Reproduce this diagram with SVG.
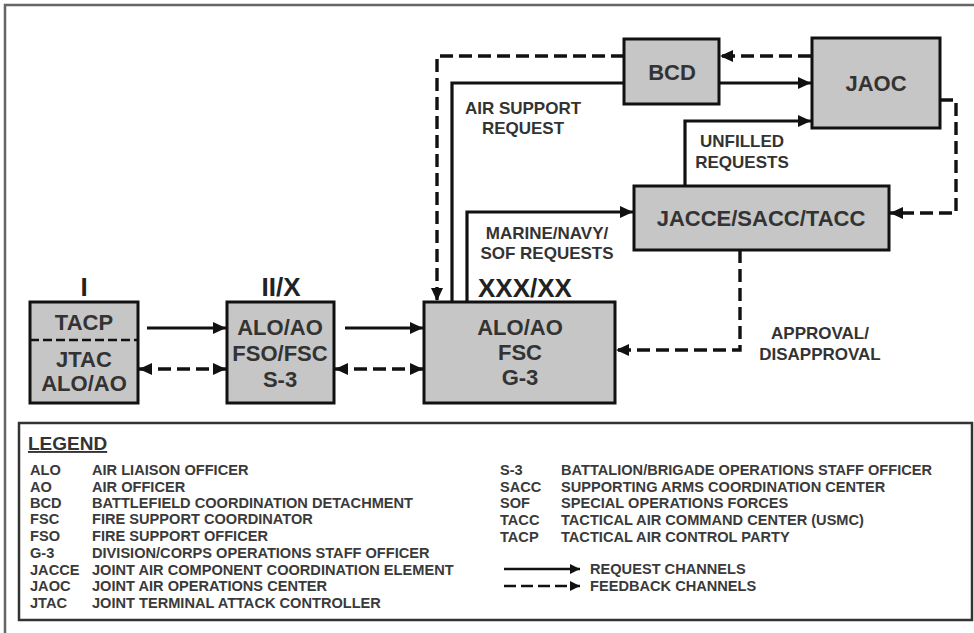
<svg xmlns="http://www.w3.org/2000/svg" width="974" height="633" viewBox="0 0 974 633">
<defs>
<marker id="ah" markerUnits="userSpaceOnUse" markerWidth="14" markerHeight="12" refX="13" refY="6" orient="auto-start-reverse">
<path d="M0,0 L13,6 L0,12 z" fill="#111"/>
</marker>
<marker id="ahs" markerUnits="userSpaceOnUse" markerWidth="11" markerHeight="10" refX="10" refY="5" orient="auto">
<path d="M0,0 L10,5 L0,10 z" fill="#111"/>
</marker>
<style>
.box{fill:#c6c6c6;stroke:#111;stroke-width:3}
.bt{font-family:"Liberation Sans",Arial,sans-serif;font-weight:bold;font-size:22px;fill:#333;text-anchor:middle;dominant-baseline:central}
.lvl{font-family:"Liberation Sans",Arial,sans-serif;font-weight:bold;font-size:26px;fill:#222;text-anchor:middle}
.lbl{font-family:"Liberation Sans",Arial,sans-serif;font-weight:bold;font-size:17px;fill:#333;text-anchor:middle;dominant-baseline:central}
.lg{font-family:"Liberation Sans",Arial,sans-serif;font-weight:bold;font-size:14.6px;fill:#3a3a3a;dominant-baseline:central}
.sol{fill:none;stroke:#111;stroke-width:3.2}
.dsh{fill:none;stroke:#111;stroke-width:3.4;stroke-dasharray:13 6}
</style>
</defs>
<rect width="974" height="633" fill="#fff"/>
<path d="M5,633 V5 H974" fill="none" stroke="#666" stroke-width="2.5"/>

<g id="connectors">
<path class="sol" d="M147,328 H226" marker-end="url(#ah)"/>
<path class="sol" d="M345,328 H423" marker-end="url(#ah)"/>
<path class="dsh" d="M139,369 H226" marker-start="url(#ah)" marker-end="url(#ah)"/>
<path class="dsh" d="M335,369 H423" marker-start="url(#ah)" marker-end="url(#ah)"/>
<path class="sol" d="M452,302 V83 H624"/>
<path class="sol" d="M719,83 H811" marker-end="url(#ah)"/>
<path class="dsh" d="M811,56 H720" marker-end="url(#ah)"/>
<path class="dsh" d="M624,56 H437 V301" marker-end="url(#ah)"/>
<path class="sol" d="M467,302 V212 H633" marker-end="url(#ah)"/>
<path class="sol" d="M685,186 V121 H811" marker-end="url(#ah)"/>
<path class="dsh" d="M940,100 H956 V213 H890" marker-end="url(#ah)"/>
<path class="dsh" d="M740,250 V350 H616" marker-end="url(#ah)"/>
</g>

<g id="level-labels">
<text class="lvl" x="84" y="296">I</text>
<text class="lvl" x="281" y="296">II/X</text>
<text class="lvl" x="525" y="297">XXX/XX</text>
</g>

<g id="tacp">
<rect class="box" x="30" y="302" width="108" height="101"/>
<line x1="30" y1="340" x2="138" y2="340" stroke="#111" stroke-width="2.5" stroke-dasharray="9 4"/>
<text class="bt" x="84" y="322">TACP</text>
<text class="bt" x="84" y="359" font-size="21">JTAC</text>
<text class="bt" x="84" y="383" font-size="21">ALO/AO</text>
</g>

<g id="bde">
<rect class="box" x="227" y="302" width="107" height="101"/>
<text class="bt" x="280" y="327">ALO/AO</text>
<text class="bt" x="280" y="353">FSO/FSC</text>
<text class="bt" x="280" y="379">S-3</text>
</g>

<g id="div">
<rect class="box" x="424" y="302" width="191" height="101"/>
<text class="bt" x="520" y="327">ALO/AO</text>
<text class="bt" x="520" y="352">FSC</text>
<text class="bt" x="520" y="377">G-3</text>
</g>

<g id="bcd">
<rect class="box" x="624" y="39" width="95" height="65"/>
<text class="bt" x="672" y="72">BCD</text>
</g>

<g id="jaoc">
<rect class="box" x="812" y="38" width="128" height="90"/>
<text class="bt" x="876" y="83">JAOC</text>
</g>

<g id="jacce">
<rect class="box" x="634" y="186" width="255" height="64"/>
<text class="bt" x="761" y="218">JACCE/SACC/TACC</text>
</g>

<g id="labels">
<text class="lbl" x="523" y="108">AIR SUPPORT</text>
<text class="lbl" x="523" y="128">REQUEST</text>
<text class="lbl" x="742" y="141">UNFILLED</text>
<text class="lbl" x="742" y="162">REQUESTS</text>
<text class="lbl" x="547" y="233">MARINE/NAVY/</text>
<text class="lbl" x="547" y="253">SOF REQUESTS</text>
<text class="lbl" x="820" y="333">APPROVAL/</text>
<text class="lbl" x="820" y="354">DISAPPROVAL</text>
</g>

<g id="legend">
<rect x="19" y="423" width="953" height="197" fill="#fff" stroke="#333" stroke-width="2.5"/>
<text x="28" y="450" font-family="'Liberation Sans',Arial,sans-serif" font-weight="bold" font-size="19" fill="#333" text-decoration="underline">LEGEND</text>
<g class="lg">
<text x="30" y="470">ALO</text><text x="92" y="470">AIR LIAISON OFFICER</text>
<text x="30" y="487">AO</text><text x="92" y="487">AIR OFFICER</text>
<text x="30" y="503">BCD</text><text x="92" y="503">BATTLEFIELD COORDINATION DETACHMENT</text>
<text x="30" y="519">FSC</text><text x="92" y="519">FIRE SUPPORT COORDINATOR</text>
<text x="30" y="536">FSO</text><text x="92" y="536">FIRE SUPPORT OFFICER</text>
<text x="30" y="553">G-3</text><text x="92" y="553">DIVISION/CORPS OPERATIONS STAFF OFFICER</text>
<text x="30" y="570">JACCE</text><text x="92" y="570">JOINT AIR COMPONENT COORDINATION ELEMENT</text>
<text x="30" y="586">JAOC</text><text x="92" y="586">JOINT AIR OPERATIONS CENTER</text>
<text x="30" y="603">JTAC</text><text x="92" y="603">JOINT TERMINAL ATTACK CONTROLLER</text>
<text x="500" y="470">S-3</text><text x="561" y="470">BATTALION/BRIGADE OPERATIONS STAFF OFFICER</text>
<text x="500" y="487">SACC</text><text x="561" y="487">SUPPORTING ARMS COORDINATION CENTER</text>
<text x="500" y="503">SOF</text><text x="561" y="503">SPECIAL OPERATIONS FORCES</text>
<text x="500" y="520">TACC</text><text x="561" y="520">TACTICAL AIR COMMAND CENTER (USMC)</text>
<text x="500" y="537">TACP</text><text x="561" y="537">TACTICAL AIR CONTROL PARTY</text>
<text x="590" y="569">REQUEST CHANNELS</text>
<text x="590" y="586">FEEDBACK CHANNELS</text>
</g>
<path d="M504,569 H580" fill="none" stroke="#111" stroke-width="2.5" marker-end="url(#ahs)"/>
<path d="M504,586 H580" fill="none" stroke="#111" stroke-width="2.5" stroke-dasharray="12 5" marker-end="url(#ahs)"/>
</g>
</svg>
